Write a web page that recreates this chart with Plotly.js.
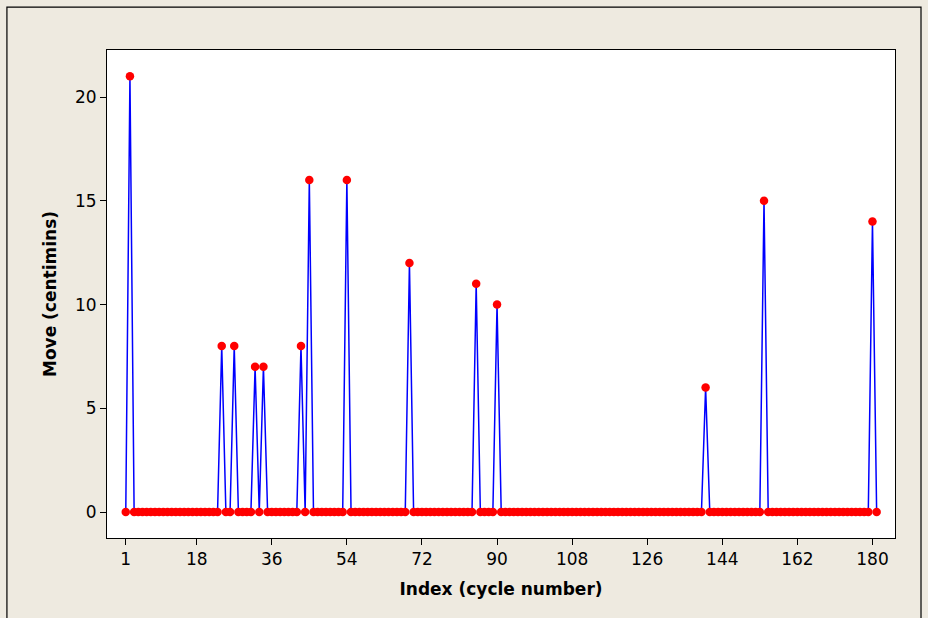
<!DOCTYPE html>
<html>
<head>
<meta charset="utf-8">
<script src="https://cdn.plot.ly/plotly-3.0.1.min.js"></script>
<style>
html,body{margin:0;padding:0;background:#EEEAE0;}
#chart{width:928px;height:618px;}
</style>
</head>
<body>
<div id="chart"></div>
<script>
// Move (centimins) per cycle, cycles 1..181
const moveValues = [
  0,21,0,0,0,0,0,0,0,0,
  0,0,0,0,0,0,0,0,0,0,
  0,0,0,8,0,0,8,0,0,0,
  0,7,0,7,0,0,0,0,0,0,
  0,0,8,0,16,0,0,0,0,0,
  0,0,0,16,0,0,0,0,0,0,
  0,0,0,0,0,0,0,0,12,0,
  0,0,0,0,0,0,0,0,0,0,
  0,0,0,0,11,0,0,0,0,10,
  0,0,0,0,0,0,0,0,0,0,
  0,0,0,0,0,0,0,0,0,0,
  0,0,0,0,0,0,0,0,0,0,
  0,0,0,0,0,0,0,0,0,0,
  0,0,0,0,0,0,0,0,0,6,
  0,0,0,0,0,0,0,0,0,0,
  0,0,0,15,0,0,0,0,0,0,
  0,0,0,0,0,0,0,0,0,0,
  0,0,0,0,0,0,0,0,0,14,
  0
];
const xTickVals = [1,18,36,54,72,90,108,126,144,162,180];
const yTickVals = [0,5,10,15,20];

const trace = {
  type: 'scatter',
  mode: 'lines+markers',
  x0: 1, dx: 1,
  y: moveValues,
  line: {color: '#0000FF', width: 1.5},
  marker: {color: '#FF0000', size: 8.5, symbol: 'circle'},
  hoverinfo: 'x+y'
};

const fam = '"DejaVu Sans", Verdana, sans-serif';

const layout = {
  width: 928, height: 618,
  paper_bgcolor: '#EEEAE0',
  plot_bgcolor: '#FFFFFF',
  margin: {l: 107, r: 33, t: 50, b: 80},
  showlegend: false,
  font: {family: fam, size: 17, color: '#000'},
  xaxis: {
    range: [-3.5, 185.4],
    tickvals: xTickVals,
    ticktext: xTickVals.map(String),
    ticks: 'outside', ticklen: 6, tickwidth: 1, tickcolor: '#000',
    showline: true, linecolor: '#000', linewidth: 1, mirror: true,
    showgrid: false, zeroline: false,
    tickfont: {family: fam, size: 17, color: '#000'},
    title: {text: '<b>Index (cycle number)</b>', font: {family: fam, size: 17, color: '#000'}, standoff: 14}
  },
  yaxis: {
    range: [-1.25, 22.27],
    tickvals: yTickVals,
    ticks: 'outside', ticklen: 6, tickwidth: 1, tickcolor: '#000',
    showline: true, linecolor: '#000', linewidth: 1, mirror: true,
    showgrid: false, zeroline: false,
    tickfont: {family: fam, size: 17, color: '#000'},
    title: {text: '<b>Move (centimins)</b>', font: {family: fam, size: 17, color: '#000'}, standoff: 14}
  },
  shapes: [{
    type: 'rect', xref: 'paper', yref: 'paper',
    x0: -0.127, x1: 1.033, y0: -0.17, y1: 1.088,
    line: {color: '#000', width: 1.2}, fillcolor: 'rgba(0,0,0,0)', layer: 'below'
  }]
};

Plotly.newPlot('chart', [trace], layout, {displayModeBar: false, staticPlot: true});
</script>
</body>
</html>
